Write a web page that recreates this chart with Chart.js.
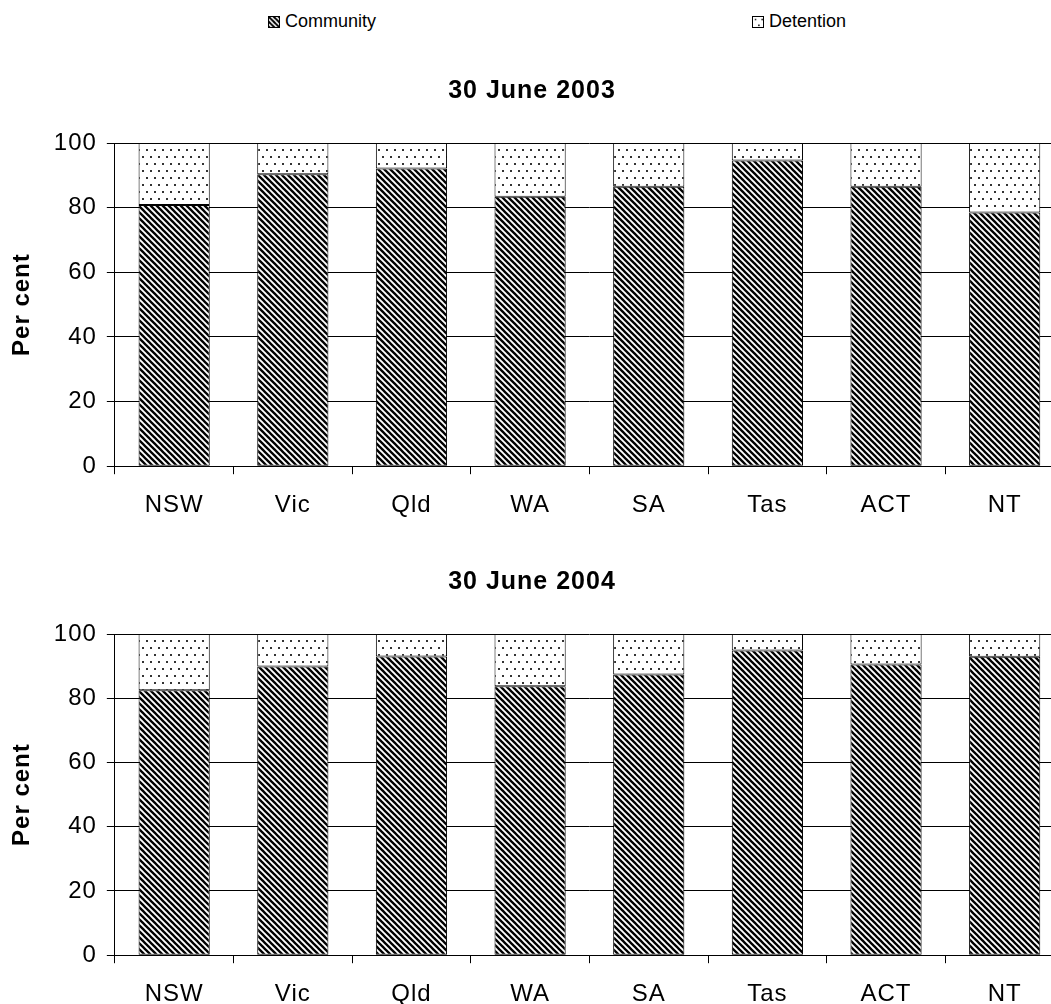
<!DOCTYPE html>
<html>
<head>
<meta charset="utf-8">
<script src="https://cdn.jsdelivr.net/npm/chart.js@4.4.1/dist/chart.umd.min.js"></script>
<style>
  html, body { margin: 0; padding: 0; background: #fff; overflow: hidden; width: 1051px; height: 1004px; }
  .wrap { position: absolute; left: 0; width: 1120px; height: 488px; }
  .leg { position: absolute; top: 11px; font: 18px "Liberation Sans", Arial, sans-serif; color: #000; display: flex; align-items: center; }
  .leg canvas { width: 12px; height: 12px; margin-right: 5px; border: 1px solid #000; box-sizing: border-box; }
</style>
</head>
<body>
<div class="leg" style="left:268px"><canvas id="swC" width="12" height="12"></canvas>Community</div>
<div class="leg" style="left:752px"><canvas id="swD" width="12" height="12"></canvas>Detention</div>
<div class="wrap" style="top:49px"><canvas id="chart2003"></canvas></div>
<div class="wrap" style="top:540px; height:486px"><canvas id="chart2004"></canvas></div>
<script>
const STATES = ["NSW", "Vic", "Qld", "WA", "SA", "Tas", "ACT", "NT"];
const COMMUNITY_2003 = [80.8, 90.3, 92.1, 83.4, 86.5, 94.6, 86.5, 78.5];
const DETENTION_2003 = [19.2, 9.7, 7.9, 16.6, 13.5, 5.4, 13.5, 21.5];
const COMMUNITY_2004 = [82.5, 89.9, 93.0, 83.7, 87.4, 94.9, 90.5, 92.9];
const DETENTION_2004 = [17.5, 10.1, 7.0, 16.3, 12.6, 5.1, 9.5, 7.1];

const FONT = "'Liberation Sans', Arial, sans-serif";

const $ = (id) => document.getElementById(id);

// diagonal stripes "\" for Community
function stripePattern(ctx) {
  const s = 6;
  const c = document.createElement("canvas");
  c.width = s; c.height = s;
  const g = c.getContext("2d");
  g.fillStyle = "#fff";
  g.fillRect(0, 0, s, s);
  g.strokeStyle = "#000";
  g.lineWidth = 2.3;
  for (let k = -1; k <= 1; k++) {
    g.beginPath();
    g.moveTo(-1, k * s - 1);
    g.lineTo(s + 1, s + k * s + 1);
    g.stroke();
  }
  return ctx.createPattern(c, "repeat");
}

// sparse dots for Detention
function dotPattern(ctx) {
  const c = document.createElement("canvas");
  c.width = 8; c.height = 14;
  const g = c.getContext("2d");
  g.fillStyle = "#fff";
  g.fillRect(0, 0, 8, 14);
  g.fillStyle = "#333";
  g.fillRect(2, 2, 2, 2);
  g.fillRect(6, 9, 2, 2);
  return ctx.createPattern(c, "repeat");
}

// the original text is a bit letter-spaced
const spacing = {
  id: "spacing",
  beforeDraw(chart) { chart.ctx.letterSpacing = "1px"; },
  afterDraw(chart) { chart.ctx.letterSpacing = "0px"; }
};

function makeChart(canvasId, title, community, detention, tickPad) {
  const ctx = $(canvasId).getContext("2d");
  return new Chart(ctx, {
    type: "bar",
    data: {
      labels: STATES,
      datasets: [
        { label: "Community", data: community, backgroundColor: stripePattern(ctx), borderColor: "#000", borderWidth: 1, borderSkipped: false },
        { label: "Detention", data: detention, backgroundColor: dotPattern(ctx), borderColor: "#000", borderWidth: 1, borderSkipped: false }
      ]
    },
    plugins: [spacing],
    options: {
      responsive: true, maintainAspectRatio: false, animation: false,
      layout: { padding: { left: 0, right: 56, top: 0, bottom: 0 } },
      datasets: { bar: { barPercentage: 0.6, categoryPercentage: 1 } },
      plugins: {
        legend: { display: false },
        tooltip: { enabled: false },
        title: {
          display: true, text: title, color: "#000",
          font: { family: FONT, size: 25, weight: "bold" },
          padding: { top: 27, bottom: 37 }
        }
      },
      scales: {
        x: {
          stacked: true,
          grid: { drawOnChartArea: false, offset: true, color: "#000", tickLength: 8 },
          border: { color: "#000" },
          ticks: { color: "#000", font: { family: FONT, size: 24 }, padding: tickPad }
        },
        y: {
          stacked: true, min: 0, max: 100,
          grid: { color: "#000", tickLength: 8 },
          border: { color: "#000" },
          ticks: { stepSize: 20, color: "#000", font: { family: FONT, size: 24 }, padding: 10 },
          title: { display: true, text: "Per cent", color: "#000", font: { family: FONT, size: 24, weight: "bold" }, padding: { top: 8, bottom: 10 } }
        }
      }
    }
  });
}

document.addEventListener("DOMContentLoaded", () => {
  makeChart("chart2003", "30 June 2003", COMMUNITY_2003, DETENTION_2003, 17);
  makeChart("chart2004", "30 June 2004", COMMUNITY_2004, DETENTION_2004, 17);

  // legend swatches
  const sc = $("swC").getContext("2d");
  sc.fillStyle = stripePattern(sc); sc.fillRect(0, 0, 12, 12);
  const sd = $("swD").getContext("2d");
  sd.fillStyle = dotPattern(sd); sd.fillRect(0, 0, 12, 12);
});
</script>
</body>
</html>
